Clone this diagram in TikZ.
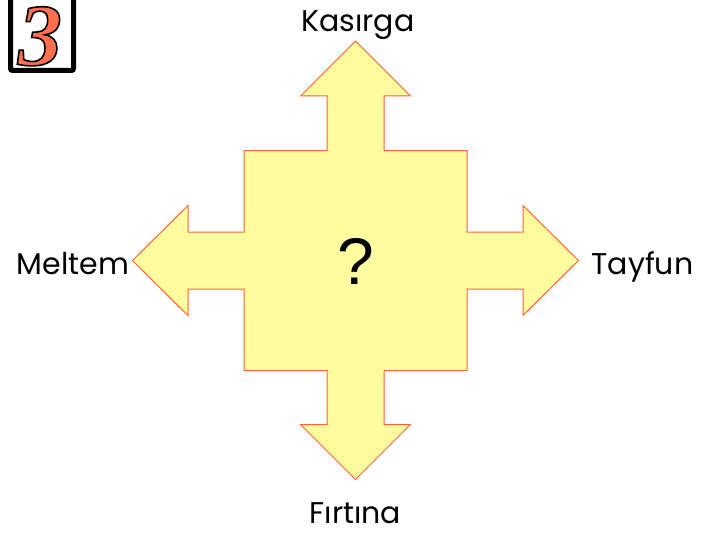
\documentclass[tikz,border=0pt]{standalone}
\usepackage{fontspec}
\setmainfont{Poppins}
\newfontfamily\qfont{Liberation Sans}
\newfontfamily\numfont{Liberation Serif}
\definecolor{shapefill}{RGB}{255,252,160}
\definecolor{shapeline}{RGB}{255,100,50}
\tikzset{
  lbl/.style={inner sep=0pt, font=\fontsize{30}{30}\selectfont, text=black},
  arrowshape/.style={fill=shapefill, draw=shapeline, line width=1pt, line join=miter},
  numframe/.style={draw=black, line width=5pt, fill=white, rounded corners=2pt}
}
\newcommand{\outlinedthree}{%
  \special{pdf:literal direct 1 0.44 0.31 rg 0 0 0 RG 1.6 w 2 Tr}%
  3%
  \special{pdf:literal direct 0 Tr}}
\begin{document}
\begin{tikzpicture}[x=1pt,y=-1pt]
\useasboundingbox (0,0) rectangle (705,535);
% number box
\draw[numframe] (10.5,-6) rectangle (73.5,70.5);
\node[inner sep=0pt, anchor=base] (num) at (40,65)
  {\numfont\bfseries\itshape\fontsize{88}{88}\selectfont\outlinedthree};
% cross of arrows
\draw[arrowshape]
 (355.5,41) -- (410.5,96) -- (384,96) -- (384,150.5) -- (467,150.5) -- (467,232)
 -- (523,232) -- (523,205.5) -- (578.5,260.5) -- (523,315.5) -- (523,289)
 -- (467,289) -- (467,370.5) -- (384,370.5) -- (384,424.5) -- (410.5,424.5)
 -- (355.5,479.5) -- (300.5,424.5) -- (327,424.5) -- (327,370.5) -- (244,370.5)
 -- (244,289) -- (188,289) -- (188,315.5) -- (132.5,260.5) -- (188,205.5)
 -- (188,232) -- (244,232) -- (244,150.5) -- (327,150.5) -- (327,96)
 -- (300.5,96) -- cycle;
\node[inner sep=0pt, font=\qfont\fontsize{66}{66}\selectfont] (q) at (356,261) {?};
% labels
\node[lbl, anchor=base] (kasirga) at (358,32) {Kasırga};
\node[lbl, anchor=base west] (meltem) at (16.5,274) {Meltem};
\node[lbl, anchor=base west] (tayfun) at (591.5,274) {Tayfun};
\node[lbl, anchor=base] (firtina) at (355.5,523) {Fırtına};
\end{tikzpicture}
\end{document}
